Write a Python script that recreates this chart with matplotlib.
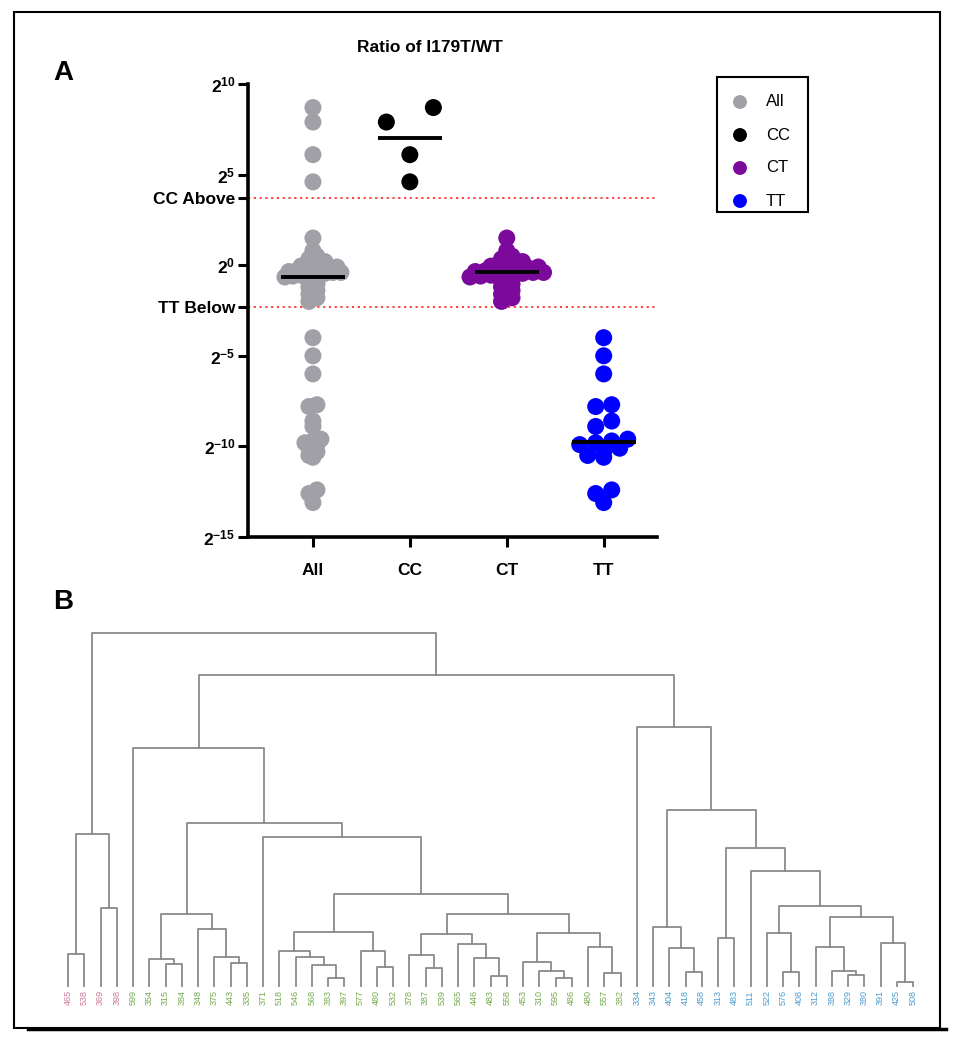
import numpy as np
import matplotlib.pyplot as plt
from matplotlib.patches import Rectangle

plt.rcParams['font.family'] = ['Liberation Sans', 'DejaVu Sans']
plt.rcParams['mathtext.fontset'] = 'custom'
plt.rcParams['mathtext.rm'] = 'Liberation Sans:bold'
plt.rcParams['mathtext.it'] = 'Liberation Sans:bold'
plt.rcParams['mathtext.bf'] = 'Liberation Sans:bold'

W, H = 961, 1050

# ---- panel A data (log2 of the I179T/WT ratio) ----
groups = ['All', 'CC', 'CT', 'TT']
cc_vals = [8.7, 7.9, 6.1, 4.6]
ct_vals = [1.5, 0.8, 0.5, 0.35, 0.2, 0.1, 0.0, -0.05, -0.1, -0.15, -0.2,
           -0.25, -0.3, -0.3, -0.35, -0.4, -0.4, -0.45, -0.5, -0.5, -0.55,
           -0.6, -0.65, -0.75, -0.9, -1.05, -1.2, -1.4, -1.6, -1.8, -2.0]
tt_vals = [-4.0, -5.0, -6.0, -7.7, -7.8, -8.6, -8.9, -9.6, -9.7, -9.8,
           -9.9, -10.1, -10.3, -10.5, -10.6, -12.4, -12.6, -13.1]
group_colors = ['#a0a0a6', '#000000', '#7b0a9c', '#0000ff']
cc_above = 3.7
tt_below = -2.3
ytick_vals = [10, 5, cc_above, 0, tt_below, -5, -10, -15]
ytick_labels = [r'$2^{10}$', r'$2^{5}$', 'CC Above', r'$2^{0}$', 'TT Below',
                r'$2^{-5}$', r'$2^{-10}$', r'$2^{-15}$']

# ---- panel B data (dendrogram) ----
leaf_labels = ['465', '538', '369', '398',
               '599', '354', '315', '384', '348', '375', '443', '335', '371',
               '518', '546', '568', '383', '397', '577', '480', '532', '378',
               '387', '539', '565', '446', '483', '558', '453', '310', '595',
               '486', '480', '557', '382',
               '334', '343', '404', '418', '458', '313', '483', '511', '522',
               '576', '408', '312', '388', '329', '380', '391', '425', '508']
leaf_group = [0] * 4 + [1] * 31 + [2] * 18
leaf_palette = ['#cc7aa0', '#74aa4c', '#4c9ccc']

# (height, left, right); ints are leaf indices
pink = (43.1, (9.1, 0, 1), (22.1, 2, 3))
green_a = (20.4, (7.6, 5, (6.2, 6, 7)), (16.1, 8, (8.2, 9, (6.5, 10, 11))))
green_b = (15.3, (9.9, 13, (8.2, 14, (5.9, 15, (2.3, 16, 17)))),
           (9.9, 18, (5.4, 19, 20)))
green_c = (14.7, (8.8, 21, (5.1, 22, 23)),
           (11.9, 24, (7.9, 25, (2.8, 26, 27))))
green_d = (15.0, (6.8, 28, (4.2, 29, (2.3, 30, 31))),
           (11.0, 32, (3.7, 33, 34)))
green = (67.4, 4, (46.2, green_a,
                   (42.2, 12, (26.1, green_b, (20.4, green_c, green_d)))))
blue_r = (22.7, (15.0, 43, (4.0, 44, 45)),
          (19.5, (11.0, 46, (4.2, 47, (3.0, 48, 49))),
           (12.2, 50, (1.1, 51, 52))))
blue = (73.4, 35, (49.9, (16.7, 36, (10.8, 37, (4.0, 38, 39))),
                   (39.1, (13.6, 40, 41), (32.6, 42, blue_r))))
tree = (100.0, pink, (88.1, green, blue))


def px_rect(x0, y0, x1, y1):
    return [x0 / W, 1 - y1 / H, (x1 - x0) / W, (y1 - y0) / H]


fig = plt.figure(figsize=(W / 100, H / 100), dpi=100)

# ---------------- panel A ----------------
ax_x0, ax_x1, ax_y0, ax_y1 = 248, 657, 84, 537
xlim = (-0.67, 3.55)
ylim = (-15, 10)
ax = fig.add_axes(px_rect(ax_x0, ax_y0, ax_x1, ax_y1))
ax.set_xlim(*xlim)
ax.set_ylim(*ylim)
ppx = (ax_x1 - ax_x0) / (xlim[1] - xlim[0])
ppy = (ax_y1 - ax_y0) / (ylim[1] - ylim[0])


def row_offsets(vals, bin_px, gap_px):
    # prism-like scatter: values close together share a row, spread sideways
    vals = np.asarray(vals, dtype=float)
    order = np.argsort(-vals)
    offs = np.zeros(len(vals))
    row = []
    start = None
    for idx in list(order) + [None]:
        if idx is not None and start is not None and \
                (start - vals[idx]) * ppy < bin_px:
            row.append(idx)
            continue
        n = len(row)
        for k, j in enumerate(row[::-1]):
            offs[j] = (k - (n - 1) / 2) * gap_px / ppx
        if idx is not None:
            row = [idx]
            start = vals[idx]
    return offs


all_vals = cc_vals + ct_vals + tt_vals
series = [all_vals, cc_vals, ct_vals, tt_vals]
row_bin = [5.0, 20.0, 5.0, 8.0]
row_gap = [8.0, 47.0, 10.5, 16.0]
for i, vals in enumerate(series):
    offs = row_offsets(vals, row_bin[i], row_gap[i])
    ax.scatter(i + offs, vals, s=150, color=group_colors[i],
               edgecolors='none', zorder=2, clip_on=False)
    med = np.median(vals)
    ax.plot([i - 0.33, i + 0.33], [med, med], color='black', lw=2.8,
            zorder=3, solid_capstyle='butt')

for yv in (cc_above, tt_below):
    ax.axhline(yv, color='#ff3030', lw=1.3, ls=(0, (1.2, 2.0)), zorder=1)

ax.set_yticks(ytick_vals)
ax.set_yticklabels(ytick_labels)
ax.set_xticks(range(len(groups)))
ax.set_xticklabels(groups)
for lab in ax.get_xticklabels() + ax.get_yticklabels():
    lab.set_fontweight('bold')
    lab.set_fontsize(12.5)
ax.tick_params(axis='both', direction='out', length=7, width=2.2, pad=2)
ax.tick_params(axis='x', pad=12)
for side in ('top', 'right'):
    ax.spines[side].set_visible(False)
for side in ('left', 'bottom'):
    ax.spines[side].set_linewidth(2.6)

# ---------------- panel B ----------------
base_y, top_y = 986, 633
dx0, dx1 = 68, 913
axd = fig.add_axes(px_rect(dx0, top_y, dx1, base_y))
axd.set_xlim(0, len(leaf_labels) - 1)
axd.set_ylim(0, 100)
axd.axis('off')


def draw(node):
    if isinstance(node, int):
        return float(node), 0.0
    h, left, right = node
    x1, h1 = draw(left)
    x2, h2 = draw(right)
    axd.plot([x1, x1, x2, x2], [h1, h, h, h2], color='#8a8a8a', lw=1.3,
             clip_on=False, solid_capstyle='projecting')
    return (x1 + x2) / 2, h


draw(tree)
for i, lab in enumerate(leaf_labels):
    axd.text(i, -1.2, lab, rotation=90, ha='center', va='top', fontsize=6.5,
             color=leaf_palette[leaf_group[i]])

# ---------------- overlay: frame, labels, legend ----------------
ov = fig.add_axes([0, 0, 1, 1])
ov.set_xlim(0, W)
ov.set_ylim(H, 0)
ov.axis('off')
ov.add_patch(Rectangle((14, 12), 926, 1016, fill=False, lw=1.5,
                       edgecolor='black'))
ov.plot([28, 946], [1029, 1029], color='black', lw=2.5)
ov.text(430, 47, 'Ratio of I179T/WT', ha='center', va='center',
        fontsize=12.5, fontweight='bold')
ov.text(53, 73, 'A', ha='left', va='center', fontsize=20, fontweight='bold')
ov.text(53, 602, 'B', ha='left', va='center', fontsize=20, fontweight='bold')

ov.add_patch(Rectangle((717, 77), 91, 135, fill=False, lw=1.5,
                       edgecolor='black'))
for i, g in enumerate(groups):
    yy = 102 + i * 33
    ov.scatter([740], [yy], s=100, color=group_colors[i], edgecolors='none')
    ov.text(766, yy, g, ha='left', va='center', fontsize=12)

fig.savefig('out.png', dpi=100)
